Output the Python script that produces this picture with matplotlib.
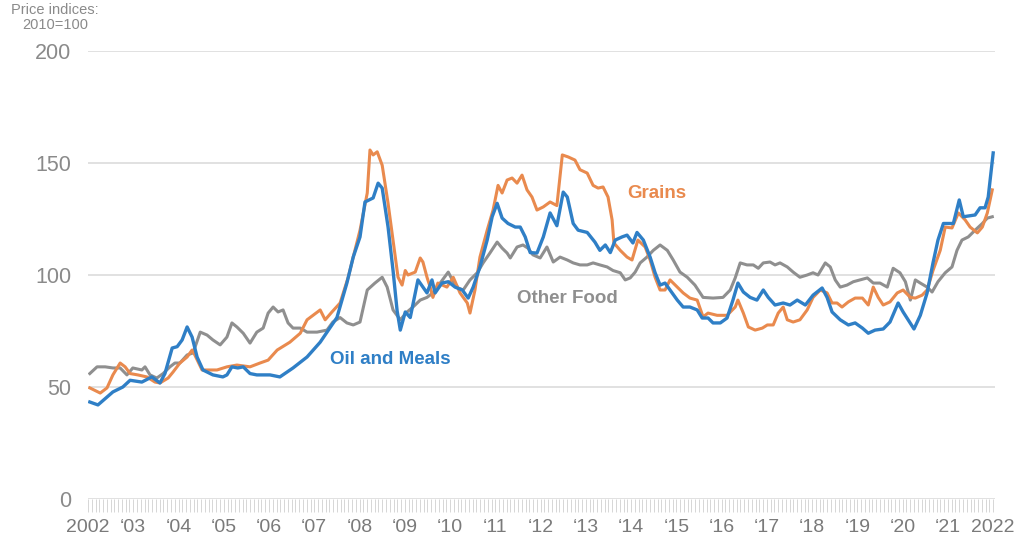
import numpy as np
import matplotlib.pyplot as plt
from matplotlib.ticker import FixedLocator, MultipleLocator

plt.rcParams['font.family'] = ['Liberation Sans', 'DejaVu Sans']

# Oil and Meals (blue) - decimal year / index value
oil_years = [2002.04, 2002.22, 2002.55, 2002.77, 2002.93, 2003.19, 2003.41, 2003.59, 2003.70, 2003.86,
             2003.97, 2004.08, 2004.19, 2004.30, 2004.41, 2004.54, 2004.76, 2004.98, 2005.07, 2005.18,
             2005.31, 2005.43, 2005.58, 2005.73, 2006.02, 2006.24, 2006.53, 2006.84, 2007.13, 2007.50,
             2007.72, 2007.86, 2008.01, 2008.12, 2008.30, 2008.41, 2008.50, 2008.63, 2008.74, 2008.83,
             2008.90, 2009.01, 2009.12, 2009.29, 2009.40, 2009.49, 2009.60, 2009.67, 2009.82, 2009.96,
             2010.11, 2010.27, 2010.40, 2010.51, 2010.66, 2010.82, 2010.93, 2011.04, 2011.15, 2011.28,
             2011.44, 2011.55, 2011.66, 2011.77, 2011.92, 2012.06, 2012.21, 2012.36, 2012.50, 2012.59,
             2012.72, 2012.83, 2013.03, 2013.20, 2013.31, 2013.43, 2013.54, 2013.65, 2013.80, 2013.91,
             2014.04, 2014.13, 2014.27, 2014.42, 2014.53, 2014.64, 2014.75, 2014.86, 2015.02, 2015.15,
             2015.30, 2015.46, 2015.57, 2015.70, 2015.81, 2015.97, 2016.12, 2016.25, 2016.36, 2016.48,
             2016.63, 2016.78, 2016.92, 2017.03, 2017.18, 2017.36, 2017.51, 2017.67, 2017.85, 2018.02,
             2018.22, 2018.33, 2018.44, 2018.62, 2018.80, 2018.95, 2019.11, 2019.24, 2019.39, 2019.57,
             2019.72, 2019.90, 2020.01, 2020.12, 2020.25, 2020.39, 2020.54, 2020.67, 2020.78, 2020.90,
             2021.12, 2021.25, 2021.34, 2021.60, 2021.71, 2021.82, 2021.89, 2022.00]
oil_values = [43.3, 42, 47.8, 50, 53, 52.2, 54.5, 51.8, 56, 67.4,
              68, 71, 76.8, 72.3, 63.4, 57.6, 55.4, 54.5, 55.4, 59,
              58.5, 59, 56, 55.4, 55.4, 54.5, 58.5, 63.4, 70, 81,
              96.4, 108, 117, 132.6, 134.4, 141, 138.8, 121.4, 102, 84,
              75.4, 83.5, 81, 97.8, 94.6, 92, 97.8, 92, 96.4, 97,
              94.6, 93.3, 89.7, 94.6, 103.6, 115.6, 126, 132, 125.4, 123,
              121.4, 121.4, 117, 110, 109.8, 117, 127.7, 122, 137, 134.8,
              123, 120, 119, 114.7, 111, 113.4, 110, 115.6, 117, 117.8,
              114.3, 119, 115.6, 108, 101, 95.5, 96.4, 93.3, 88.8, 85.7,
              85.7, 84.4, 80.8, 80.8, 78.6, 78.6, 80.8, 88.8, 96.4, 92.4,
              90, 88.8, 93.3, 90, 86.6, 87.5, 86.6, 88.8, 86.6, 91,
              94.2, 90, 83.5, 80, 77.7, 78.6, 76.3, 74, 75.4, 75.9,
              79, 87.5, 83.5, 80, 75.9, 82, 92, 105.4, 115.6, 123,
              123, 133.5, 126, 126.8, 130, 130, 134.8, 154.5]

# Grains (orange)
grain_years = [2002.04, 2002.27, 2002.42, 2002.55, 2002.71, 2002.82, 2002.93, 2003.10, 2003.30, 2003.48,
               2003.59, 2003.77, 2003.88, 2004.03, 2004.19, 2004.30, 2004.36, 2004.52, 2004.85, 2005.07,
               2005.29, 2005.58, 2005.80, 2005.98, 2006.18, 2006.46, 2006.69, 2006.84, 2006.97, 2007.13,
               2007.24, 2007.39, 2007.57, 2007.75, 2007.86, 2008.01, 2008.17, 2008.23, 2008.30, 2008.39,
               2008.50, 2008.63, 2008.74, 2008.85, 2008.94, 2009.01, 2009.07, 2009.23, 2009.34, 2009.40,
               2009.49, 2009.56, 2009.62, 2009.73, 2009.93, 2010.07, 2010.22, 2010.38, 2010.44, 2010.55,
               2010.66, 2010.82, 2010.95, 2011.06, 2011.15, 2011.26, 2011.37, 2011.48, 2011.59, 2011.70,
               2011.81, 2011.92, 2012.06, 2012.21, 2012.36, 2012.48, 2012.61, 2012.76, 2012.87, 2013.03,
               2013.16, 2013.27, 2013.38, 2013.49, 2013.58, 2013.62, 2013.76, 2013.91, 2014.02, 2014.15,
               2014.31, 2014.42, 2014.53, 2014.64, 2014.75, 2014.86, 2015.02, 2015.15, 2015.30, 2015.46,
               2015.52, 2015.59, 2015.70, 2015.90, 2016.12, 2016.30, 2016.36, 2016.48, 2016.59, 2016.74,
               2016.90, 2017.01, 2017.14, 2017.25, 2017.36, 2017.45, 2017.58, 2017.73, 2017.89, 2018.02,
               2018.18, 2018.33, 2018.44, 2018.55, 2018.66, 2018.80, 2018.95, 2019.11, 2019.24, 2019.35,
               2019.46, 2019.57, 2019.72, 2019.88, 2020.01, 2020.17, 2020.28, 2020.43, 2020.54, 2020.67,
               2020.83, 2020.94, 2021.09, 2021.23, 2021.38, 2021.49, 2021.65, 2021.76, 2021.87, 2021.98]
grain_values = [49.6, 47.3, 49.6, 55.4, 60.7, 59, 56, 55.4, 54.5, 52.2,
                51.8, 54, 56.7, 60.7, 63.4, 66.5, 64.3, 57.6, 57.6, 59,
                59.8, 59, 60.7, 62, 66.5, 70, 74, 80, 82, 84.4,
                80, 83.5, 87.5, 99, 108, 120, 136.6, 155.8, 153.6, 155,
                149, 132, 115.6, 99, 95.5, 102, 100, 101.3, 107.6, 105.8,
                99, 94.6, 90, 96.4, 94.6, 99, 92, 87.5, 83, 93.3,
                108, 120, 129, 140, 136.6, 142.4, 143.3, 141, 144.6, 138,
                134.8, 129, 130.4, 132.6, 131, 153.6, 152.7, 151.3, 147, 145.5,
                140, 138.8, 139.3, 134.8, 124.6, 114.3, 111, 108, 106.7, 115.6,
                112.5, 106.7, 99, 93.3, 93.3, 97.8, 94.6, 92, 89.7, 88.8,
                85.3, 81.3, 83, 82, 82, 85.7, 88.8, 83, 76.8, 75.4,
                76.3, 77.7, 77.7, 83, 85.7, 80, 79, 80, 84.4, 90,
                93.3, 92, 87.5, 87.5, 85.7, 88, 89.7, 89.7, 86.6, 94.6,
                90, 86.6, 88, 92, 93.3, 90, 89.7, 91, 93.3, 102,
                111, 121.4, 121, 127.7, 124.6, 121.4, 118.8, 121.4, 127.7, 138]

# Other Food (gray)
other_years = [2002.04, 2002.20, 2002.38, 2002.55, 2002.71, 2002.86, 2002.99, 2003.19, 2003.26, 2003.37,
               2003.52, 2003.66, 2003.81, 2003.92, 2004.03, 2004.19, 2004.32, 2004.48, 2004.63, 2004.76,
               2004.92, 2005.07, 2005.18, 2005.29, 2005.43, 2005.58, 2005.73, 2005.87, 2005.98, 2006.09,
               2006.20, 2006.31, 2006.42, 2006.53, 2006.69, 2006.84, 2007.06, 2007.28, 2007.41, 2007.57,
               2007.72, 2007.86, 2008.01, 2008.17, 2008.34, 2008.50, 2008.61, 2008.74, 2008.90, 2009.05,
               2009.18, 2009.34, 2009.49, 2009.62, 2009.78, 2009.96, 2010.07, 2010.18, 2010.29, 2010.44,
               2010.60, 2010.73, 2010.88, 2011.04, 2011.15, 2011.26, 2011.33, 2011.48, 2011.61, 2011.72,
               2011.83, 2011.99, 2012.14, 2012.28, 2012.43, 2012.59, 2012.72, 2012.87, 2013.03, 2013.16,
               2013.31, 2013.47, 2013.60, 2013.76, 2013.87, 2013.98, 2014.09, 2014.20, 2014.35, 2014.49,
               2014.64, 2014.80, 2014.93, 2015.08, 2015.24, 2015.41, 2015.59, 2015.81, 2016.03, 2016.19,
               2016.30, 2016.41, 2016.56, 2016.70, 2016.81, 2016.92, 2017.07, 2017.18, 2017.29, 2017.45,
               2017.58, 2017.73, 2017.89, 2018.02, 2018.13, 2018.29, 2018.40, 2018.51, 2018.62, 2018.77,
               2018.91, 2019.06, 2019.22, 2019.35, 2019.50, 2019.66, 2019.79, 2019.94, 2020.06, 2020.17,
               2020.28, 2020.39, 2020.54, 2020.65, 2020.78, 2020.94, 2021.09, 2021.20, 2021.31, 2021.45,
               2021.60, 2021.76, 2021.87, 2021.98]
other_values = [56, 59, 59, 58.5, 58.5, 55.4, 58.5, 57.6, 59, 55.4,
                54, 56, 59, 60.7, 60.7, 64.3, 65.2, 74.5, 73.2, 71,
                68.8, 72.3, 78.6, 76.8, 74, 69.6, 74.5, 76.3, 83, 85.7,
                83.5, 84.4, 78.6, 76.3, 76.3, 74.5, 74.5, 75.4, 79, 81,
                78.6, 77.7, 79, 93.3, 96.4, 99, 94.6, 84.4, 80, 83.5,
                85.7, 88.8, 90, 92, 96.4, 101.3, 97, 94.2, 93.3, 97.8,
                101, 105.4, 109.8, 114.7, 112, 109.8, 107.6, 112.5, 113.4, 112,
                109, 107.6, 112.5, 105.8, 108, 106.7, 105.4, 104.5, 104.5, 105.4,
                104.5, 103.6, 102, 101, 97.8, 98.7, 101.3, 105.4, 108, 111,
                113.4, 111, 106.7, 101.3, 99, 95.5, 90, 89.7, 90, 93.3,
                98.7, 105.4, 104.5, 104.5, 103, 105.4, 105.8, 104.5, 105.4, 103.6,
                101.3, 99, 100, 101, 100, 105.4, 103.6, 97.8, 94.6, 95.5,
                97, 97.8, 98.7, 96.4, 96.4, 94.6, 103, 101, 97, 88.8,
                97.8, 96.4, 94.6, 92.4, 97, 101, 103.6, 111, 115.6, 117,
                120, 123, 125.4, 126]

year_ticks = list(range(2002, 2023))
year_labels = ['2002'] + ['\u2018%02d' % (y % 100) for y in range(2003, 2022)] + ['2022']
y_ticks = [0, 50, 100, 150, 200]

c_oil = '#2f7fc6'
c_grain = '#e98a4e'
c_other = '#8f8f8f'
c_text = '#8a8a8a'

fig = plt.figure(figsize=(10.2, 5.46), dpi=100)
ax = fig.add_axes([88 / 1020, 47 / 546, 907 / 1020, 448 / 546])

ax.plot(other_years, other_values, color=c_other, lw=2.2, solid_joinstyle='round', zorder=3)
ax.plot(grain_years, grain_values, color=c_grain, lw=2.2, solid_joinstyle='round', zorder=4)
ax.plot(oil_years, oil_values, color=c_oil, lw=2.4, solid_joinstyle='round', zorder=5)

ax.set_xlim(2002, 2022.04)
ax.set_ylim(0, 200)
ax.set_yticks(y_ticks)
ax.set_yticklabels([str(v) for v in y_ticks])
ax.grid(axis='y', color='#dcdcdc', lw=1.2)
ax.set_axisbelow(True)
for s in ax.spines.values():
    s.set_visible(False)

# year labels plus a dense monthly tick strip under the zero line
ax.xaxis.set_major_locator(FixedLocator(year_ticks))
ax.set_xticklabels(year_labels)
ax.xaxis.set_minor_locator(MultipleLocator(1 / 12))
ax.tick_params(axis='x', which='both', direction='out', length=9.5, width=0.6,
               color='#d0d0d0', labelcolor='#7a7a7a', labelsize=14, pad=5)
ax.tick_params(axis='y', length=0, labelcolor=c_text, labelsize=15.5, pad=12)

fig.text(55 / 1020, 1 - 3 / 546, 'Price indices:\n2010=100', ha='center', va='top',
         fontsize=10.5, color=c_text, linespacing=1.05)

ax.text(2013.91, 136.6, 'Grains', color=c_grain, fontsize=13.5, fontweight='bold', va='center')
ax.text(2011.48, 89.3, 'Other Food', color=c_other, fontsize=13.5, fontweight='bold', va='center')
ax.text(2007.35, 62.5, 'Oil and Meals', color=c_oil, fontsize=13.5, fontweight='bold', va='center')

fig.savefig('out.png', dpi=100)
